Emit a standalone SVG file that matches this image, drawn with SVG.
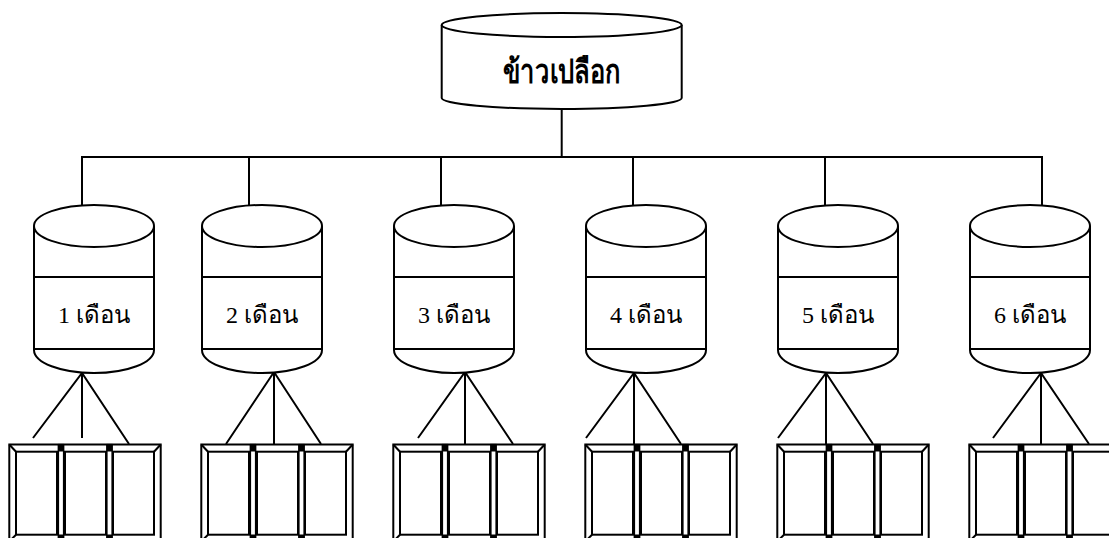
<svg xmlns="http://www.w3.org/2000/svg" width="1109" height="538" viewBox="0 0 1109 538">
<defs>
<style>
.s{fill:none;stroke:#000;stroke-width:2}
.d{fill:#fff;stroke:#000;stroke-width:1.2}
.w{fill:#fff;stroke:#000;stroke-width:2}
.t{font-family:"Liberation Serif","Noto Sans",serif;font-size:24px;fill:#000;text-anchor:middle}
.tb{font-family:"Liberation Serif","Noto Sans",serif;font-size:33px;font-weight:bold;fill:#000;text-anchor:middle}
.k{fill:#000}
</style>
<g id="cyl">
<path class="w" d="M0,0 L0,124 A60,23 0 0 0 120,124 L120,0"/>
<ellipse class="w" cx="60" cy="0" rx="60" ry="21"/>
<line class="s" x1="0" y1="51" x2="120" y2="51"/>
<line class="s" x1="0" y1="123" x2="120" y2="123"/>
</g>
<g id="box">
<rect class="w" x="0" y="0" width="151.4" height="97"/>
<rect class="s" x="6.7" y="7.2" width="41" height="83"/>
<rect class="s" x="55.7" y="7.2" width="41" height="83"/>
<rect class="s" x="103.7" y="7.2" width="41" height="83"/>
<line class="s" x1="0" y1="0" x2="6.7" y2="7.2"/>
<line class="s" x1="151.4" y1="0" x2="144.7" y2="7.2"/>
<line class="s" x1="0" y1="97" x2="6.7" y2="90.2"/>
<rect class="d" x="49.2" y="0" width="5" height="97"/>
<rect class="d" x="97.7" y="0" width="5" height="97"/>
<rect class="k" x="48.4" y="0" width="6.6" height="7"/>
<rect class="k" x="96.9" y="0" width="6.6" height="7"/>
<rect class="k" x="48.4" y="90" width="6.6" height="7"/>
<rect class="k" x="96.9" y="90" width="6.6" height="7"/>
</g>
</defs>
<g id="connectors" class="s">
<line x1="561.7" y1="109" x2="561.7" y2="157"/>
<line x1="81" y1="157" x2="1043" y2="157"/>
<line x1="82" y1="157" x2="82" y2="205"/>
<line x1="249" y1="157" x2="249" y2="205"/>
<line x1="441" y1="157" x2="441" y2="205"/>
<line x1="633" y1="157" x2="633" y2="205"/>
<line x1="825" y1="157" x2="825" y2="205"/>
<line x1="1042" y1="157" x2="1042" y2="205"/>
<path d="M33,438 L82,373 L129,444 M82,373 L82,438"/>
<path d="M226,444 L274,372 L321,444 M274,372 L274,444"/>
<path d="M418,438 L465,372 L513,444 M465,372 L465,444"/>
<path d="M586,438 L634,373 L681,444 M634,373 L634,444"/>
<path d="M778,438 L826,373 L873,444 M826,373 L826,444"/>
<path d="M993,438 L1041,373 L1089,444 M1041,373 L1041,444"/>
</g>
<g id="root">
<path class="w" d="M441.7,25 L441.7,98 A120,11 0 0 0 681.7,98 L681.7,25"/>
<ellipse class="w" cx="561.7" cy="25" rx="120" ry="12"/>
<text class="tb" x="561.7" y="83" textLength="118" lengthAdjust="spacingAndGlyphs">ข้าวเปลือก</text>
</g>
<g id="m1"><use href="#cyl" x="34" y="226"/><text class="t" x="94" y="323">1 เดือน</text></g>
<g id="m2"><use href="#cyl" x="202" y="226"/><text class="t" x="262" y="323">2 เดือน</text></g>
<g id="m3"><use href="#cyl" x="394" y="226"/><text class="t" x="454" y="323">3 เดือน</text></g>
<g id="m4"><use href="#cyl" x="586" y="226"/><text class="t" x="646" y="323">4 เดือน</text></g>
<g id="m5"><use href="#cyl" x="778" y="226"/><text class="t" x="838" y="323">5 เดือน</text></g>
<g id="m6"><use href="#cyl" x="970" y="226"/><text class="t" x="1030" y="323">6 เดือน</text></g>
<g id="b1"><use href="#box" x="9.3" y="444.5"/></g>
<g id="b2"><use href="#box" x="201.3" y="444.5"/></g>
<g id="b3"><use href="#box" x="393.3" y="444.5"/></g>
<g id="b4"><use href="#box" x="585.3" y="444.5"/></g>
<g id="b5"><use href="#box" x="777.3" y="444.5"/></g>
<g id="b6"><use href="#box" x="969.3" y="444.5"/></g>
</svg>
